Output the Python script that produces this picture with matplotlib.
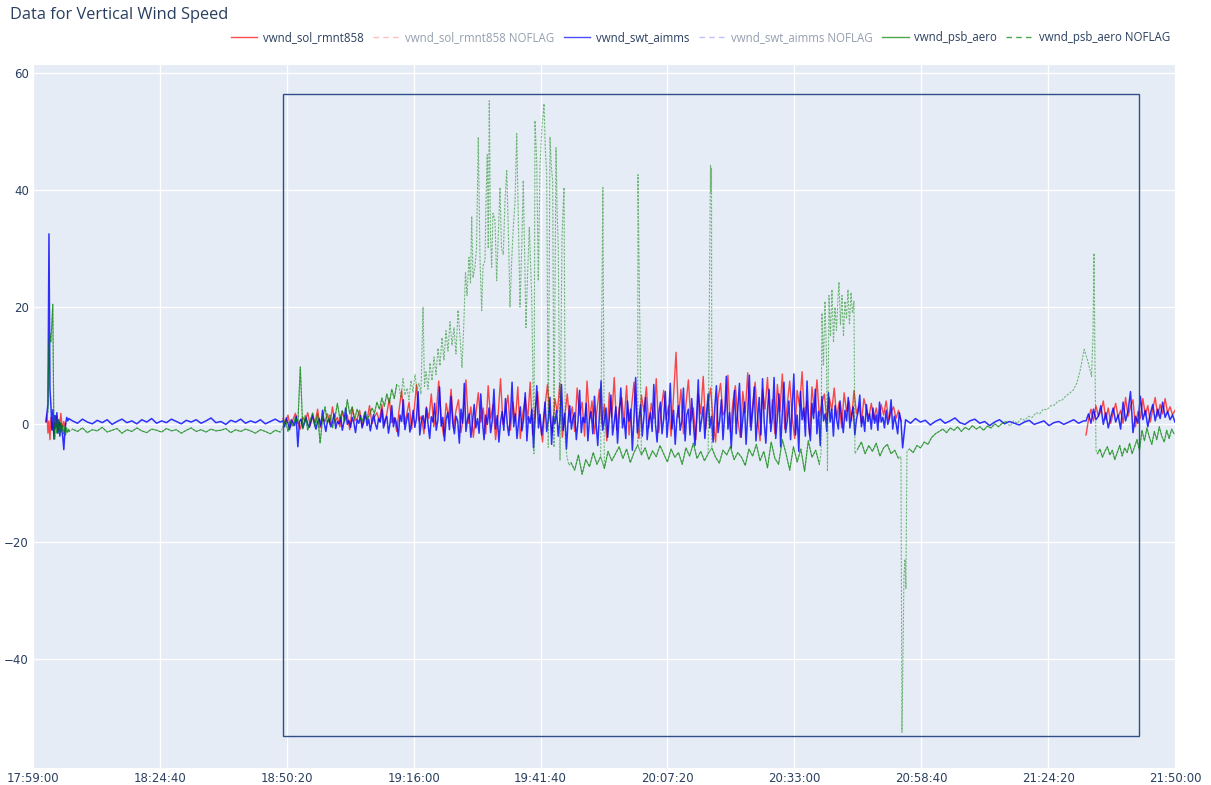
import numpy as np
import pandas as pd
import matplotlib
matplotlib.use('Agg')
import matplotlib.pyplot as plt
import matplotlib.dates as mdates
from matplotlib.lines import Line2D
from matplotlib.patches import Rectangle

plt.rcParams['font.family'] = ['Open Sans', 'DejaVu Sans']

T0 = pd.Timestamp('2000-01-01 17:59:00')
T_END_MIN = 231.0
TICK_STEP_S = 1540
TEXT_COLOR = '#2a3f5f'

# times are minutes after 17:59:00; uniform segments are (start_min, step_s, values)

# --- vwnd_sol_rmnt858 (red) ---
RED_START = (2.63, 12, [0.4, 1.8, -1.5, 0.6, -2.6, 1.2, -0.8, 0.3, -1.6, 0.2, -0.4,
                        1.4, -1.0, 0.4, -0.2, 1.9, 0.2, -0.6, 0.5, -0.3, 0.1])
RED_ACTIVE = (50.57, 30, [
    1.0, 0.2, 1.6, -0.5, 0.8, 1.9, 0.4, -0.8, 1.2, 0.6, 2.0, -0.2, 1.4, 0.3, 2.6, -0.6, 1.0, 0.5, 1.8, 0.0,
    3.0, 0.4, 1.2, -0.4, 2.2, 0.8, 1.6, -0.9, 2.8, 0.6, 1.0, 2.4, -0.3, 1.5, 0.7, 3.2, 0.1, 1.3, 2.0, 0.5,
    3.4, -0.2, 1.8, 4.4, 0.3, 1.2, -1.2, 2.6, 5.8, 0.0, 1.6, 3.8, -0.8, 2.2, 6.8, 0.6, 1.4, -1.6, 3.0, 1.0,
    5.2, -0.4, 2.0, 7.4, 0.8, -2.0, 3.6, 1.2, 6.0, -0.6, 2.4, 4.2, -1.4, 1.6, 7.6, 0.2, 3.0, -2.2, 1.8, 5.4,
    0.4, 2.8, -1.6, 6.6, 1.0, 3.4, -2.6, 1.4, 7.8, 0.0, 2.2, 5.0, -1.0, 3.8, 0.6, 6.4, -2.4, 1.8, 4.6, 0.8,
    7.2, -1.8, 2.6, 5.6, 0.2, -3.0, 3.2, 6.8, 1.0, -1.4, 4.4, 2.0, 7.0, -2.2, 1.4, 5.2, 0.4, 3.0, -1.2, 6.2,
    1.6, 3.8, -2.0, 7.4, 0.8, 4.0, -1.6, 2.4, 6.0, 0.0, 3.4, -2.8, 5.4, 1.2, 8.0, -1.0, 2.8, 4.6, 0.4, 6.6,
    -1.8, 3.0, 7.2, 1.4, -2.4, 5.0, 2.2, 6.4, -0.6, 3.6, 1.0, 7.8, -1.4, 2.6, 5.8, 0.8, 3.2, -2.0, 4.8, 12.3,
    1.2, 6.0, -1.6, 3.4, 7.6, 0.6, 2.8, -2.6, 5.2, 1.8, 8.2, -0.8, 3.6, 6.2, 0.4, -3.0, 4.4, 7.0, 1.6, 2.4,
    8.4, -1.2, 3.8, 6.6, 0.8, -2.2, 5.6, 2.0, 8.8, -0.4, 3.2, 7.2, 1.0, -2.8, 6.0, 2.6, 8.0, 0.2, 4.2, -1.6,
    6.8, 2.2, 8.6, -0.8, 3.4, 7.4, 1.2, -2.4, 5.8, 3.0, 9.0, 0.6, 4.0, -1.8, 6.4, 2.0, 7.6, 1.4, 3.6, 5.2,
    0.8, 4.6, 2.4, 6.2, 1.0, 3.8, -0.6, 5.4, 2.2, 4.0, 0.6, 5.8, 1.8, 3.2, 0.2, 4.4, 2.6, 1.2, 3.6, 0.8,
    2.8, 0.4, 3.4, 1.6, 4.0, 0.8, 2.2, 3.0, 1.0, 2.4, 0.6])
RED_END = (213.0, 30, [-1.8, 0.8, 2.6, 0.6, 3.2, 1.4, 2.2, 4.0, 0.8, 2.8, 0.2, 2.0, 3.6,
                       1.2, 2.4, 0.2, 4.6, 1.4, 3.0, 4.2, -0.4, 2.2, 1.0, 4.4, 1.6, 3.2,
                       0.4, 2.6, 4.6, 1.4, 3.4, 1.8, 4.4, 2.0, 3.0, 1.6, 2.4])

# --- vwnd_swt_aimms (blue) ---
BLUE_START = (2.63, 12, [0.5, 2.0, 3.5, 32.5, 6.0, 3.2, -1.0, 2.5, -2.5, 1.5, -0.5, 2.0,
                         -1.5, 0.8, -2.0, 0.2, -1.0, -2.2, -4.3, -1.5, 0.3, 1.2, 0.6, 1.0])
BLUE_CALM1 = (8.0, 60, [0.6, 0.2, 0.9, 0.4, 0.1, 0.7, 0.3, 0.8, 0.0, 0.5, 0.9, 0.3, 0.6,
                        0.1, 0.8, 0.4, 1.0, 0.2, 0.6, 0.3, 0.9, 0.5, 0.1, 0.7, 0.4, 0.8,
                        0.2, 0.6, 1.1, 0.3, 0.5, 0.0, 0.7, 0.4, 0.9, 0.2, 0.6, 0.3, 0.8,
                        0.1, 0.5, 0.9, 0.4])
BLUE_ACTIVE = (50.57, 20, [
    0.6, -0.4, 1.1, 0.2, -0.9, 0.8, 0.3, -0.2, 1.4, -3.8, 0.5, 0.9, -0.6, 0.2, 1.2, 0.0, -0.5, 0.7, 1.6, 0.1,
    -0.8, 0.4, 1.0, -0.3, 2.4, 0.2, -1.2, 0.6, 0.9, -0.4, 0.3, 1.8, -0.7, 0.5, 0.1, 1.3, -1.0, 0.4, 2.8, 0.0,
    0.7, -0.5, 1.2, 0.3, -1.4, 0.8, 0.2, 1.5, -0.6, 0.4, 2.2, -0.2, 0.9, -1.1, 0.5, 1.7, 0.1, -0.8, 1.0, 0.4,
    2.6, -0.6, 0.8, 1.4, -1.5, 0.3, 3.2, -0.4, 1.1, 0.0, -2.0, 1.6, 0.5, 4.2, -0.9, 0.7, 1.9, -1.3, 0.2, 2.4,
    -0.5, 1.0, 5.6, -1.8, 0.6, 1.5, -0.7, 2.8, 0.1, -2.4, 1.3, 0.4, 3.6, -1.0, 0.8, 6.4, -0.3, 1.2, -2.8, 0.9,
    2.0, -0.9, 4.8, 0.3, -1.6, 1.4, 0.6, -3.2, 2.6, 0.2, 7.0, -1.2, 0.9, 1.8, -2.2, 0.4, 3.4, -0.6, 1.0, -1.5,
    5.2, 0.6, -2.6, 1.6, 0.0, 2.8, -1.4, 0.7, 6.0, -0.8, 1.5, -3.0, 0.4, 2.2, -1.0, 4.4, 0.3, -1.9, 1.2, 7.2,
    -0.4, 1.8, -2.4, 0.6, 3.0, -1.1, 0.9, 5.4, -2.8, 1.3, 0.2, 2.6, -4.0, 1.0, 6.6, -0.6, 1.7, -1.8, 0.5, 3.8,
    -1.2, 0.8, 4.6, -3.4, 1.4, 0.1, 2.4, -2.0, 0.7, 6.8, -1.0, 1.9, -4.2, 0.6, 3.2, -0.8, 1.1, 2.0, -2.6, 0.4,
    5.8, -1.4, 1.2, 0.3, 3.6, -2.8, 0.9, 2.2, -1.6, 4.8, 0.2, -3.6, 1.5, 7.4, -1.0, 0.6, 2.8, -2.2, 1.0, 5.0,
    -1.8, 0.4, 3.0, -3.2, 1.6, 6.2, -0.6, 1.1, -2.4, 4.0, 0.5, 2.6, -4.4, 1.2, 8.0, -1.4, 0.8, 3.4, -2.0, 1.4,
    4.6, -2.6, 0.6, 2.0, -1.2, 6.8, 0.2, -3.0, 1.8, 3.8, -1.6, 0.9, 5.6, -2.2, 1.3, 7.0, -0.8, 2.4, -3.4, 1.0,
    3.2, -1.0, 0.5, 6.2, -2.8, 1.6, 2.6, -1.8, 4.4, 0.3, -3.6, 1.2, 7.6, -1.2, 0.8, 3.0, -2.4, 1.9, 5.2, -0.6,
    1.4, -3.0, 2.8, 6.6, -1.4, 0.7, 4.2, -2.6, 1.5, 8.2, -0.8, 2.0, -4.0, 1.1, 5.8, -1.6, 2.6, 7.0, -2.2, 0.9,
    3.8, -3.4, 1.6, 8.4, -1.0, 2.2, 6.4, -2.8, 0.8, 4.6, -1.8, 7.8, 0.4, -3.2, 2.4, 6.0, -1.2, 1.4, 8.0, -2.4,
    1.2, 5.2, -3.8, 2.0, 7.2, -1.4, 0.6, 4.0, -2.6, 3.0, 8.6, -1.8, 1.6, -4.6, 5.6, 0.8, 2.8, -2.0, 7.4, 0.2,
    -2.8, 3.6, 1.0, 6.0, -1.6, 2.2, -3.6, 4.8, 0.6, 1.8, -1.2, 5.4, 0.4, 2.6, -2.0, 3.2, 0.8, -0.8, 4.0, 1.2,
    -1.4, 2.4, 0.6, 4.6, -0.6, 1.6, 3.0, -1.8, 0.9, 2.2, 5.0, -0.4, 1.4, -1.2, 3.4, 0.5, 1.8, -0.8, 2.8, 0.2,
    1.6, -1.0, 3.8, 0.4, 1.2, -0.6, 2.4, 0.0, 1.0, 4.2, -0.8, 1.4, 0.2, -1.6, 2.0, 0.6, -4.0])
BLUE_CALM2 = (176.5, 60, [0.8, 0.2, 1.0, 0.4, 0.7, -0.1, 0.5, 0.9, 0.2, 0.6, 1.1, 0.3,
                          0.0, 0.6, 0.9, 0.2, 0.5, -0.2, 0.4, 0.8, 0.1, 0.5, 0.2, -0.1,
                          0.4, 0.7, 0.0, 0.3, 0.6, -0.2, 0.3, 0.5, 0.0, 0.4, 0.8, 0.2, 0.6])
BLUE_END = (213.0, 30, [0.6, 1.8, 0.2, 2.6, 0.8, 1.4, 3.2, 0.0, 2.0, -0.6, 1.2, 2.8, 0.4,
                        1.6, -0.8, 3.8, 0.6, 2.2, 5.6, -1.4, 1.4, 0.2, 4.8, 0.8, 2.4, -0.4,
                        1.8, 3.4, 0.6, 2.6, 1.0, 3.8, 1.2, 2.2, 0.8, 1.6, 0.4])

# --- vwnd_psb_aero (green) ---
GREEN_START = (3.0, 12, [2.0, 13.0, 15.5, 14.0, 17.0, 20.5, 1.0, -2.5, 0.8, -1.5, 1.0, -0.5,
                         -1.8, 0.3, -1.2, -0.2, -1.6, -0.5, -1.8, -0.6, -1.4, -0.8, -1.2])
GREEN_CALM = (8.0, 60, [-0.8, -1.2, -0.6, -1.4, -0.9, -1.1, -0.5, -1.3, -1.0, -0.7, -1.5,
                        -0.9, -1.2, -0.6, -1.1, -1.4, -0.8, -1.0, -1.3, -0.7, -1.1, -0.9,
                        -1.5, -1.0, -0.6, -1.2, -0.9, -1.3, -0.8, -1.1, -1.0, -0.7, -1.4,
                        -0.9, -1.2, -0.8, -1.1, -1.5, -0.9, -1.2, -1.6, -1.0, -1.3])
GREEN_RISE = (50.57, 30, [-0.5, 0.8, -1.2, 0.5, -0.3, 1.2, 0.2, 9.8, -0.8, 1.5, -1.0, 0.6,
                          2.0, -0.4, 1.8, -3.2, 0.9, 3.0, 0.2, 1.6, -0.6, 1.1, 3.6, 1.0,
                          2.4, 0.5, 4.2, 1.8, 3.0, 0.9, 2.6, 1.3, 0.4, 2.0, 0.8, 1.6, 2.8,
                          1.9, 3.8, 2.6, 4.5, 3.1, 5.2, 3.6, 6.0, 4.4, 6.8])
GREEN_PEAK_MIN = [74.03, 74.43, 74.84, 75.24, 75.65, 76.05, 76.46, 76.86, 77.27, 77.67,
                  78.08, 78.48, 78.89, 79.19, 79.49, 79.90, 80.30, 80.71, 81.11, 81.52,
                  81.92, 82.32, 82.73, 83.13, 83.54, 83.94, 84.35, 84.75, 85.16, 85.56,
                  85.97, 86.37, 86.78, 87.18, 87.48, 87.79, 88.19, 88.50, 88.74, 89.00,
                  89.40, 89.71, 90.07, 90.42, 90.76, 91.02, 91.43, 91.63, 91.89, 92.09,
                  92.30, 92.54, 92.78, 93.04, 93.45, 93.79, 94.16, 94.46, 94.76, 95.13,
                  95.47, 95.82, 96.18, 96.48, 96.83, 97.15, 97.50, 97.84, 98.16, 98.51,
                  98.85, 99.17, 99.46, 99.72, 100.02, 100.39, 100.63, 100.88, 101.34,
                  101.54, 101.89, 102.21, 102.56, 102.90, 103.37, 103.63, 103.91, 104.23,
                  104.58, 104.84, 105.12, 105.38, 105.79, 106.03, 106.25, 106.60, 107.00,
                  107.41, 107.67, 108.01, 108.42]
GREEN_PEAK_VAL = [6.5, 4.5, 7.8, 5.0, 6.2, 4.2, 7.5, 5.5, 8.5, 5.8,
                  7.0, 5.2, 20.0, 6.5, 9.0, 6.0, 10.5, 7.5, 11.5, 8.5,
                  13.0, 10.0, 14.8, 11.0, 16.0, 12.5, 17.5, 13.5, 16.5, 12.0,
                  19.5, 15.0, 9.7, 18.0, 26.0, 22.0, 28.5, 24.0, 35.5, 25.0,
                  26.8, 30.0, 49.0, 28.0, 19.4, 27.0, 28.0, 38.0, 46.0, 30.0,
                  55.2, 32.0, 26.8, 36.0, 34.8, 24.5, 33.0, 40.4, 30.0, 29.0,
                  38.0, 43.3, 32.0, 20.0, 28.0, 33.6, 38.0, 49.6, 35.0, 20.0,
                  30.0, 41.6, 28.0, 16.5, 25.0, 33.6, 28.0, 21.7, -5.0,
                  51.8, 45.0, 24.5, 44.0, 50.0, 54.7, 47.0, 42.8, -3.9,
                  49.0, 44.0, 41.6, -3.9, 47.2, 36.0, 30.2, -6.1, 32.0,
                  40.4, -2.7, -5.5, -7.0]
GREEN_LOW1 = (108.82, 45, [-6.5, -7.8, -5.2, -8.5, -6.0, -7.2, -4.8, -6.8, -5.5, -7.5,
                           -4.6, -6.2, -5.0, -3.8, -5.8, -4.2, -6.5, -4.8, -3.5, -5.2,
                           -4.0, -6.0, -4.5, -5.5, -3.6, -5.0, -6.4, -4.2, -5.6, -4.8,
                           -6.8, -4.0, -5.4, -3.2, -5.8, -4.6, -6.2, -5.0, -4.0, -5.6,
                           -6.6, -4.4, -5.2, -3.8, -6.0, -4.8, -5.6, -7.0, -4.2, -5.4,
                           -3.4, -6.2, -4.6, -7.4, -3.0, -5.8, -6.8, -2.6, -5.0, -7.8,
                           -3.8, -6.4, -4.2, -8.0, -2.8, -5.6, -4.4, -6.8])
GREEN_SPIKE_MIN = [115.27, 122.37, 137.04, 137.14, 137.24]
GREEN_SPIKE_VAL = [40.4, 42.6, 44.2, 39.5, 43.8]
GREEN_HUMP_MIN = [159.39, 159.59, 159.89, 160.20, 160.50, 160.70, 161.01, 161.31, 161.61,
                  161.92, 162.22, 162.52, 162.83, 163.03, 163.33, 163.64, 163.94, 164.24,
                  164.55, 164.85, 165.15, 165.46, 165.76, 166.06, 166.26]
GREEN_HUMP_VAL = [-5.0, 19.0, 10.0, 21.0, 12.0, -8.0, 22.0, 15.0, 23.0, 14.0, 20.0, 16.0,
                  21.5, 24.3, 17.0, 22.0, 15.0, 21.0, 18.0, 23.0, 17.0, 22.5, 19.0, 21.0,
                  -5.0]
GREEN_LOW2 = (166.81, 45, [-4.2, -3.0, -5.0, -3.6, -4.6, -3.2, -5.4, -4.0, -3.4, -5.0,
                           -4.4, -5.8])
GREEN_DIP_MIN = [175.57, 175.77, 175.97, 176.17, 176.37, 176.57, 176.78]
GREEN_DIP_VAL = [-5.5, -52.5, -40.0, -26.0, -23.0, -28.0, -4.5]
GREEN_LOW3 = (177.29, 45, [-4.2, -4.8, -3.6, -4.0, -3.0, -3.4, -2.2, -1.6, -1.2, -0.8,
                           -1.4, -0.6, -1.0, -0.4, -1.2, -0.5, -0.9, -0.2, -0.8, -0.4,
                           -1.0, -0.3, -0.6, 0.1, -0.4, 0.2, 0.5])
GREEN_CLIMB = (197.62, 45, [-0.3, 0.6, 0.2, 1.0, 0.7, 1.4, 1.2, 2.0, 1.8, 2.6, 2.5, 3.2,
                            3.3, 4.0, 4.1, 4.8, 5.3, 5.8, 7.0, 9.4, 12.8, 10.8, 8.2])
GREEN_JUMP_MIN = [214.41, 214.62, 214.82, 215.02]
GREEN_JUMP_VAL = [15.0, 29.2, 10.0, -4.4]
GREEN_END = (215.32, 30, [-5.0, -4.2, -5.6, -4.6, -3.8, -5.2, -4.4, -6.0, -4.8, -3.6,
                          -5.4, -4.0, -4.8, -3.2, -5.0, -3.8, -2.6, -4.4, -1.0, -2.8,
                          -0.6, -2.2, -3.4, -1.2, -2.6, -0.4, -2.0, -3.0, -1.0, -2.4,
                          -0.8, -1.6])

# box drawn over the chart (minutes after 17:59:00, m/s)
BOX_X = (50.57, 223.71)
BOX_Y = (-53.2, 56.4)

LEGEND_NAMES = ['vwnd_sol_rmnt858', 'vwnd_sol_rmnt858 NOFLAG', 'vwnd_swt_aimms',
                'vwnd_swt_aimms NOFLAG', 'vwnd_psb_aero', 'vwnd_psb_aero NOFLAG']


def uniform(seg):
    start, step, vals = seg
    return start + np.arange(len(vals)) * step / 60.0, np.asarray(vals, dtype=float)


def build(parts, gaps=False):
    ts, vs = [], []
    for t, v in parts:
        ts.append(np.asarray(t, dtype=float))
        vs.append(np.asarray(v, dtype=float))
        if gaps:
            ts.append(np.array([ts[-1][-1] + 0.01]))
            vs.append(np.array([np.nan]))
    t = np.concatenate(ts)
    v = np.concatenate(vs)
    order = np.argsort(t, kind='stable')
    return (T0 + pd.to_timedelta(t[order], unit='m')).to_numpy(), v[order]


red_t, red_v = build([uniform(RED_START), uniform(RED_ACTIVE), uniform(RED_END)], gaps=True)
blue_t, blue_v = build([uniform(BLUE_START), uniform(BLUE_CALM1), uniform(BLUE_ACTIVE),
                        uniform(BLUE_CALM2), uniform(BLUE_END)])
green_t, green_v = build([uniform(GREEN_START), uniform(GREEN_CALM), uniform(GREEN_RISE),
                          (GREEN_PEAK_MIN, GREEN_PEAK_VAL), uniform(GREEN_LOW1),
                          (GREEN_SPIKE_MIN, GREEN_SPIKE_VAL), (GREEN_HUMP_MIN, GREEN_HUMP_VAL),
                          uniform(GREEN_LOW2), (GREEN_DIP_MIN, GREEN_DIP_VAL),
                          uniform(GREEN_LOW3), uniform(GREEN_CLIMB),
                          (GREEN_JUMP_MIN, GREEN_JUMP_VAL), uniform(GREEN_END)])
gsol_t, gsol_v = build([uniform(GREEN_START), uniform(GREEN_CALM), uniform(GREEN_RISE),
                        uniform(GREEN_LOW1), uniform(GREEN_LOW2), uniform(GREEN_LOW3),
                        uniform(GREEN_END)], gaps=True)

fig = plt.figure(figsize=(12.11, 7.85), dpi=100)
ax = fig.add_axes([33 / 1211, 17 / 785, 1142 / 1211, 703 / 785])
ax.set_facecolor('#E5ECF6')
for s in ax.spines.values():
    s.set_visible(False)
ax.grid(True, color='white', linewidth=1.0)
ax.set_axisbelow(True)

ax.plot(red_t, red_v, color='red', linewidth=1.0, alpha=0.7)
ax.plot(blue_t, blue_v, color='blue', linewidth=1.1, alpha=0.8)
ax.plot(gsol_t, gsol_v, color='green', linewidth=0.8, alpha=0.6)
ax.plot(green_t, green_v, color='green', linewidth=0.8, alpha=0.5, linestyle=(0, (2, 1.2)))

x0 = mdates.date2num(T0 + pd.Timedelta(minutes=BOX_X[0]))
x1 = mdates.date2num(T0 + pd.Timedelta(minutes=BOX_X[1]))
ax.add_patch(Rectangle((x0, BOX_Y[0]), x1 - x0, BOX_Y[1] - BOX_Y[0], fill=False,
                       edgecolor='#2f4f86', linewidth=1.0, zorder=5))

ax.set_xlim(T0, T0 + pd.Timedelta(minutes=T_END_MIN))
ax.set_ylim(-58.6, 61.3)
ax.set_xticks(pd.date_range(T0, periods=10, freq=f'{TICK_STEP_S}s'))
ax.xaxis.set_major_formatter(mdates.DateFormatter('%H:%M:%S'))
ax.set_yticks([-40, -20, 0, 20, 40, 60])
ax.tick_params(length=0, labelsize=8.5, labelcolor=TEXT_COLOR, pad=3)
for lab in ax.get_xticklabels() + ax.get_yticklabels():
    lab.set_family('DejaVu Sans')

fig.text(10 / 1211, 1 - 15 / 785, 'Data for Vertical Wind Speed', fontsize=11.8,
         color=TEXT_COLOR, va='center', ha='left')

handles = [
    Line2D([], [], color='red', linewidth=1.0, alpha=0.7),
    Line2D([], [], color='red', linewidth=1.0, alpha=0.25, linestyle=(0, (4, 3))),
    Line2D([], [], color='blue', linewidth=1.0, alpha=0.7),
    Line2D([], [], color='blue', linewidth=1.0, alpha=0.25, linestyle=(0, (4, 3))),
    Line2D([], [], color='green', linewidth=1.0, alpha=0.7),
    Line2D([], [], color='green', linewidth=1.0, alpha=0.7, linestyle=(0, (4, 3))),
]
leg = fig.legend(handles, LEGEND_NAMES, loc='center right', bbox_to_anchor=(1170 / 1211, 1 - 38 / 785),
                 ncol=6, frameon=False, fontsize=8.3, handlelength=2.3, handletextpad=0.5,
                 columnspacing=0.8, borderpad=0.0, borderaxespad=0.0)
for i, txt in enumerate(leg.get_texts()):
    txt.set_color(TEXT_COLOR)
    if i in (1, 3):
        txt.set_alpha(0.5)

fig.savefig('out.png', dpi=100)
